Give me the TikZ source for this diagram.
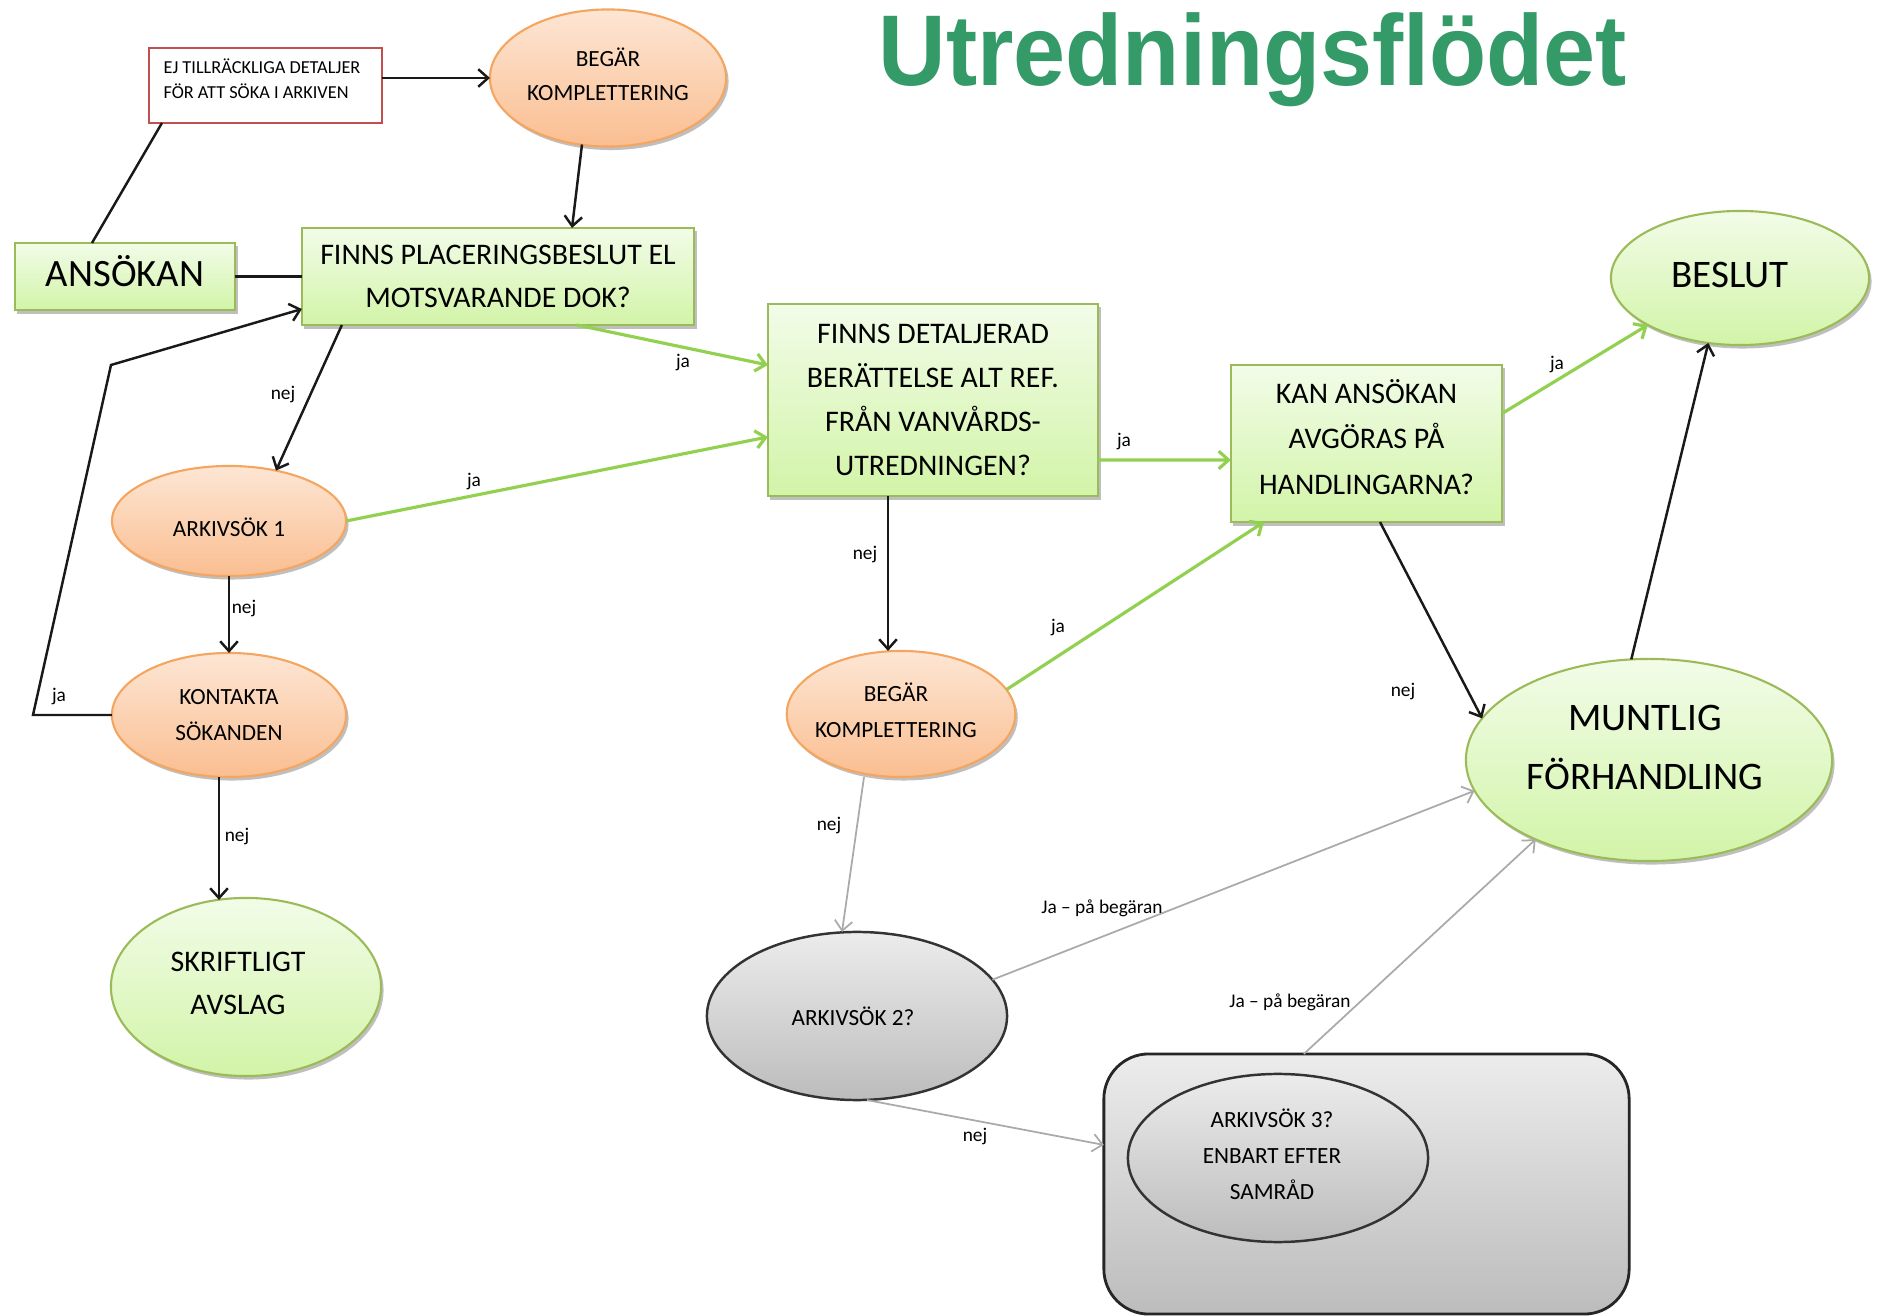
\documentclass[tikz,border=0pt]{standalone}
\usepackage{fontspec}
\setmainfont{Carlito}
\newfontfamily\titlefont{Liberation Sans}
\usetikzlibrary{shapes.geometric,arrows.meta,calc,shadows}
\definecolor{gborder}{RGB}{155,187,89}
\definecolor{gtop}{RGB}{242,252,232}
\definecolor{gbot}{RGB}{210,244,168}
\definecolor{otop}{RGB}{253,230,212}
\definecolor{obot}{RGB}{250,190,145}
\definecolor{oborder}{RGB}{244,165,96}
\definecolor{gytop}{RGB}{236,236,236}
\definecolor{gybot}{RGB}{188,188,188}
\definecolor{redb}{RGB}{192,80,77}
\definecolor{garrow}{RGB}{146,208,80}
\definecolor{grayarrow}{RGB}{170,170,170}
\definecolor{titlegreen}{RGB}{52,155,104}
% move text inside a node without changing the node's shape: {dx}{dy}{column}{lines}
\newcommand\mvtext[4]{\raisebox{#2}[\height][\depth]{\hspace*{#1}\begin{tabular}{@{}#3@{}}#4\end{tabular}\hspace*{-#1}}}
\begin{document}
\begin{tikzpicture}[x=0.01cm,y=-0.01cm,
  shad/.style={drop shadow={shadow xshift=0.025cm,shadow yshift=-0.035cm,opacity=0.25,fill=black}},
  gbox/.style={rectangle,draw=gborder,line width=0.6pt,top color=gtop,bottom color=gbot,inner sep=0pt,outer sep=0pt,align=center,shad},
  gell/.style={ellipse,draw=gborder,line width=0.6pt,top color=gtop,bottom color=gbot,inner sep=0pt,outer sep=0pt,align=center,shad},
  oell/.style={ellipse,draw=oborder,line width=0.6pt,top color=otop,bottom color=obot,inner sep=0pt,outer sep=0pt,align=center,shad,font=\fontsize{6.6}{9.6}\selectfont},
  gyell/.style={ellipse,draw=black!80,line width=0.7pt,top color=gytop,bottom color=gybot,inner sep=0pt,outer sep=0pt,align=center,font=\fontsize{6.6}{10.2}\selectfont},
  blk/.style={draw=black!90,line width=0.7pt,-{Straight Barb[length=2.8pt,width=5pt]}},
  grn/.style={draw=garrow,line width=0.9pt,-{Straight Barb[length=2.8pt,width=5pt]}},
  gry/.style={draw=grayarrow,line width=0.5pt,-{Straight Barb[length=2.8pt,width=5pt]}},
  lbl/.style={font=\fontsize{5.5}{6}\selectfont,inner sep=0pt},
]
\useasboundingbox (0,0) rectangle (1878,1316);

\node[anchor=base west,inner sep=0pt,text=titlegreen,font=\titlefont\bfseries\fontsize{28.6}{30}\selectfont] (title) at (878,86) {\scalebox{0.93}[1]{Utredningsflödet}};

\node[rectangle,draw=redb,line width=0.6pt,fill=white,minimum width=2.33cm,minimum height=0.75cm,inner sep=0pt,outer sep=0pt,font=\fontsize{5.2}{7}\selectfont] (red) at (265.5,85.5) {\mvtext{-0.035cm}{0.045cm}{l}{EJ TILLRÄCKLIGA DETALJER\\FÖR ATT SÖKA I ARKIVEN}};
\node[oell,minimum width=2.36cm,minimum height=1.37cm] (begar1) at (608,78) {\mvtext{0cm}{0.014cm}{c}{BEGÄR\\KOMPLETTERING}};
\node[gbox,minimum width=2.2cm,minimum height=0.67cm,font=\fontsize{11}{13}\selectfont] (ansokan) at (125,276.5) {\mvtext{0cm}{-0.013cm}{c}{ANSÖKAN}};
\node[gbox,minimum width=3.92cm,minimum height=0.97cm,font=\fontsize{8.5}{12.2}\selectfont] (finns1) at (498,276.5) {FINNS PLACERINGSBESLUT EL\\MOTSVARANDE DOK?};
\node[oell,minimum width=2.34cm,minimum height=1.10cm] (arkiv1) at (229,521) {\mvtext{0cm}{-0.086cm}{c}{ARKIVSÖK 1}};
\node[oell,minimum width=2.34cm,minimum height=1.24cm,font=\fontsize{6.6}{10}\selectfont] (kontakta) at (229,715) {KONTAKTA\\SÖKANDEN};
\node[gell,minimum width=2.70cm,minimum height=1.78cm,font=\fontsize{8.5}{12.2}\selectfont] (skrift) at (246,987) {\mvtext{-0.08cm}{0.03cm}{c}{SKRIFTLIGT\\AVSLAG}};
\node[gbox,minimum width=3.30cm,minimum height=1.92cm,font=\fontsize{8.5}{12.5}\selectfont] (finnsdet) at (933,400) {FINNS DETALJERAD\\BERÄTTELSE ALT REF.\\FRÅN VANVÅRDS-\\UTREDNINGEN?};
\node[gbox,minimum width=2.71cm,minimum height=1.57cm,font=\fontsize{8.5}{12.8}\selectfont] (kan) at (1366.5,443.5) {\mvtext{0cm}{0.035cm}{c}{KAN ANSÖKAN\\AVGÖRAS PÅ\\HANDLINGARNA?}};
\node[oell,minimum width=2.2cm,minimum height=1.26cm,font=\fontsize{6.6}{10.2}\selectfont] (begar2) at (901,714) {\mvtext{-0.05cm}{0.02cm}{c}{BEGÄR\\KOMPLETTERING}};
\node[gell,minimum width=2.58cm,minimum height=1.34cm,font=\fontsize{11.1}{13}\selectfont] (beslut) at (1740,278) {\mvtext{-0.1cm}{0cm}{c}{BESLUT}};
\node[gell,minimum width=3.66cm,minimum height=2.02cm,font=\fontsize{11.1}{17}\selectfont] (muntlig) at (1649,760) {\mvtext{-0.04cm}{0.12cm}{c}{MUNTLIG\\FÖRHANDLING}};
\node[gyell,minimum width=3.0cm,minimum height=1.68cm] (arkiv2) at (857,1016) {\mvtext{-0.04cm}{-0.024cm}{c}{ARKIVSÖK 2?}};
\node[rectangle,rounded corners=0.45cm,draw=black!85,line width=0.8pt,top color=gytop,bottom color=gybot,minimum width=5.25cm,minimum height=2.6cm,inner sep=0pt,outer sep=0pt] (box) at (1366.5,1184) {};
\node[gyell,minimum width=3.0cm,minimum height=1.68cm] (arkiv3) at (1278,1158) {\mvtext{-0.06cm}{0.02cm}{c}{ARKIVSÖK 3?\\ENBART EFTER\\SAMRÅD}};

% connectors
\draw[line width=0.7pt,black!90] ($(ansokan.north)+(-33,0)$) -- ($(red.south west)+(13,0)$);
\draw[line width=0.7pt,black!90] (ansokan.east) -- (finns1.west);
\draw[blk] (red.east |- begar1.west) -- (begar1.west);
\draw[blk] ($(begar1.south)+(-26,-2)$) -- ($(finns1.north)+(74,0)$);
\draw[blk] ($(finns1.south west)+(40,0)$) -- (arkiv1.47);
\draw[grn] ($(finns1.south west)+(275,0)$) -- ($(finnsdet.west)+(0,-35)$);
\draw[grn] (arkiv1.east) -- ($(finnsdet.west)+(0,37)$);
\draw[blk] (arkiv1.south) -- (kontakta.north);
\coordinate (c1) at (33,715);
\coordinate (c2) at (111,365);
\draw[blk] (kontakta.west) -- (c1) -- (c2) -- ($(finns1.south west)+(0,-16)$);
\draw[blk] ($(kontakta.south)+(-10,0)$) -- ($(skrift.north)+(-27,2)$);
\draw[grn] ($(finnsdet.south east)+(0,-36)$) -- ($(kan.west)+(0,16.5)$);
\draw[blk] ($(finnsdet.south)+(-45,0)$) -- ($(begar2.north)+(-13,0)$);
\draw[grn] (begar2.13) -- ($(kan.south west)+(33,0)$);
\draw[blk] ($(kan.south)+(13.5,0)$) -- (muntlig.166);
\draw[grn] ($(kan.east)+(0,-30)$) -- (beslut.207);
\draw[blk] (muntlig.100) -- (beslut.244);
\draw[gry] ($(begar2.south)+(-37,0)$) -- ($(arkiv2.north)+(-15,0)$);
\draw[gry] (arkiv2.15) -- (muntlig.190);
\draw[gry] ($(box.north west)+(200,0)$) -- (muntlig.215);
\draw[gry] ($(arkiv2.south)+(10,0)$) -- ($(box.north west)+(0,91)$);

% labels
\node[lbl] (l1) at (283,395) {nej};
\node[lbl] (l2) at (683,363) {ja};
\node[lbl] (l3) at (474,482) {ja};
\node[lbl] (l4) at (244,609) {nej};
\node[lbl] (l5) at (59,697) {ja};
\node[lbl] (l6) at (237,837) {nej};
\node[lbl] (l7) at (1124,442) {ja};
\node[lbl] (l8) at (865,555) {nej};
\node[lbl] (l9) at (1058,628) {ja};
\node[lbl] (l10) at (1403,692) {nej};
\node[lbl] (l11) at (1557,365) {ja};
\node[lbl] (l12) at (829,826) {nej};
\node[lbl] (l13) at (1102,908) {Ja – på begäran};
\node[lbl] (l14) at (1290,1002) {Ja – på begäran};
\node[lbl] (l15) at (975,1137) {nej};
\end{tikzpicture}
\end{document}
